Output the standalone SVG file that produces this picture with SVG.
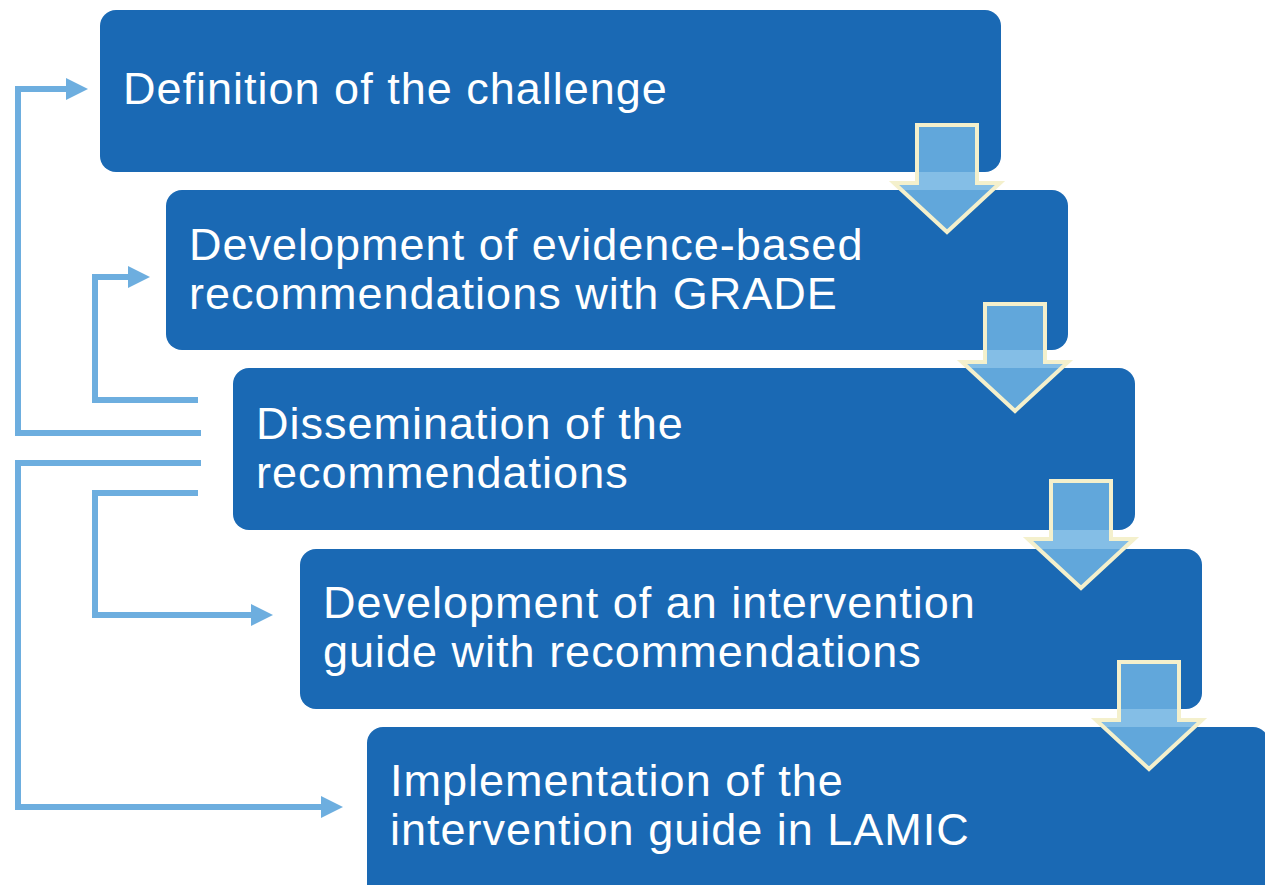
<svg xmlns="http://www.w3.org/2000/svg" width="1265" height="885" viewBox="0 0 1265 885">
  <defs>
    <style>
      .box { fill: #1A69B4; }
      .label { font-family: "Liberation Sans", Arial, sans-serif; font-size: 45px; letter-spacing: 1px; fill: #FFFFFF; }
      .loop { fill: none; stroke: #6DAEDF; stroke-width: 6; stroke-linejoin: miter; }
      .loop-head { fill: #6DAEDF; }
      .step { fill: #6FB3E2; fill-opacity: 0.85; stroke: #F4F0CC; stroke-width: 4; stroke-linejoin: miter; }
    </style>
    <!-- block arrow pointing down, origin at top centre of the shaft -->
    <polygon id="down" points="-30,0 30,0 30,58 53,58 0,107 -53,58 -30,58"/>
  </defs>

  <rect width="1265" height="885" fill="#FFFFFF"/>

  <g id="node-definition">
    <rect class="box" x="100" y="10" width="901" height="162" rx="16"/>
    <text class="label" x="123" y="104">Definition of the challenge</text>
  </g>
  <g id="node-recommendations">
    <rect class="box" x="166" y="190" width="902" height="160" rx="16"/>
    <text class="label" x="189" y="260">Development of evidence-based</text>
    <text class="label" x="189" y="309">recommendations with GRADE</text>
  </g>
  <g id="node-dissemination">
    <rect class="box" x="233" y="368" width="902" height="162" rx="16"/>
    <text class="label" x="256" y="439">Dissemination of the</text>
    <text class="label" x="256" y="488">recommendations</text>
  </g>
  <g id="node-guide">
    <rect class="box" x="300" y="549" width="902" height="160" rx="16"/>
    <text class="label" x="323" y="618">Development of an intervention</text>
    <text class="label" x="323" y="667">guide with recommendations</text>
  </g>
  <g id="node-implementation">
    <rect class="box" x="367" y="727" width="902" height="175" rx="16"/>
    <text class="label" x="390" y="796">Implementation of the</text>
    <text class="label" x="390" y="845">intervention guide in LAMIC</text>
  </g>

  <g id="connectors">
    <!-- feedback loops on the left -->
    <path class="loop" d="M 201 433 H 18 V 89 H 70"/>
    <polygon class="loop-head" points="66,78 88,89 66,100"/>
    <path class="loop" d="M 198 400 H 95 V 277 H 132"/>
    <polygon class="loop-head" points="128,266 150,277 128,288"/>
    <path class="loop" d="M 201 463 H 18 V 807 H 325"/>
    <polygon class="loop-head" points="321,796 343,807 321,818"/>
    <path class="loop" d="M 198 493 H 95 V 615 H 255"/>
    <polygon class="loop-head" points="251,604 273,615 251,626"/>

    <!-- step arrows between stages -->
    <use href="#down" class="step" transform="translate(947,125)"/>
    <use href="#down" class="step" transform="translate(1015,304)"/>
    <use href="#down" class="step" transform="translate(1081,481)"/>
    <use href="#down" class="step" transform="translate(1149,662)"/>
  </g>
</svg>
